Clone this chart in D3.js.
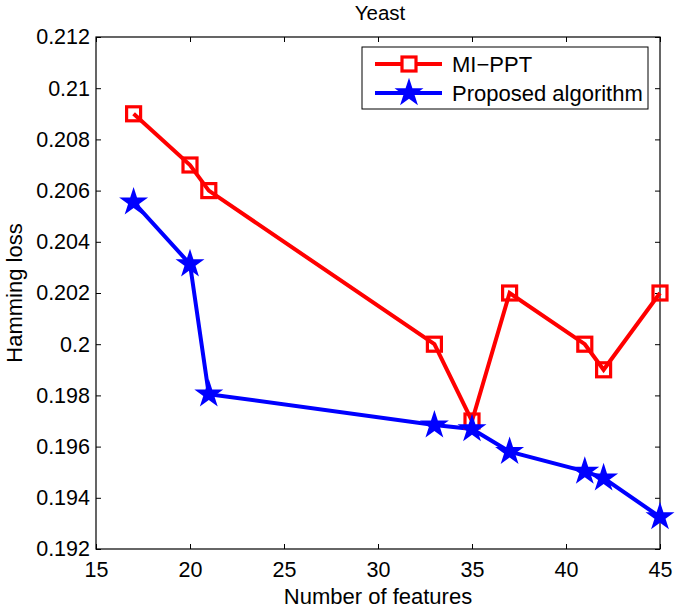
<!DOCTYPE html>
<html>
<head>
<meta charset="utf-8">
<script src="https://cdn.jsdelivr.net/npm/d3@7"></script>
<style>
  body { margin: 0; background: #fff; }
  text { font-family: "Liberation Sans", Arial, sans-serif; fill: #000; }
</style>
</head>
<body>
<div id="viz"></div>
<script>
// Values
let features = [17, 20, 21, 33, 35, 37, 41, 42, 45];
let miPpt = [0.209, 0.207, 0.206, 0.200, 0.197, 0.202, 0.200, 0.199, 0.202];
let proposed = [0.20555, 0.20313, 0.19805, 0.19684, 0.19669, 0.19580, 0.19503, 0.19477, 0.19325];
let xTicks = [15, 20, 25, 30, 35, 40, 45];
let yTicks = [0.192, 0.194, 0.196, 0.198, 0.2, 0.202, 0.204, 0.206, 0.208, 0.21, 0.212];
let seriesNames = ["MI\u2212PPT", "Proposed algorithm"];

let canvasWidth = 675;
let canvasHeight = 608;
let plotLeft = 96, plotRight = 660, plotTop = 37, plotBottom = 549;
let tickFont = 21.5, labelFont = 22;

let svg = d3.select("#viz").append("svg")
  .attr("width", canvasWidth)
  .attr("height", canvasHeight);

let x = d3.scaleLinear().domain([15, 45]).range([plotLeft, plotRight]);
let y = d3.scaleLinear().domain([0.192, 0.212]).range([plotBottom, plotTop]);

let fmt = (d) => String(+d.toFixed(3));

// axes with inward ticks, on all four sides
let tickLen = 5;
svg.append("g")
  .attr("transform", "translate(0," + plotBottom + ")")
  .call(d3.axisBottom(x).tickValues(xTicks).tickSize(-tickLen).tickPadding(13).tickFormat(d3.format("d")))
  .call(g => g.select(".domain").remove())
  .call(g => g.selectAll("text").attr("font-size", tickFont));
svg.append("g")
  .attr("transform", "translate(0," + plotTop + ")")
  .call(d3.axisTop(x).tickValues(xTicks).tickSize(-tickLen).tickFormat(""))
  .call(g => g.select(".domain").remove());
svg.append("g")
  .attr("transform", "translate(" + plotLeft + ",0)")
  .call(d3.axisLeft(y).tickValues(yTicks).tickSize(-tickLen).tickPadding(6).tickFormat(fmt))
  .call(g => g.select(".domain").remove())
  .call(g => g.selectAll("text").attr("font-size", tickFont));
svg.append("g")
  .attr("transform", "translate(" + plotRight + ",0)")
  .call(d3.axisRight(y).tickValues(yTicks).tickSize(-tickLen).tickFormat(""))
  .call(g => g.select(".domain").remove());

svg.append("rect")
  .attr("x", plotLeft).attr("y", plotTop)
  .attr("width", plotRight - plotLeft).attr("height", plotBottom - plotTop)
  .attr("fill", "none").attr("stroke", "#000").attr("stroke-width", 1.2);

// titles
svg.append("text").attr("x", 380).attr("y", 20)
  .attr("text-anchor", "middle").attr("font-size", 20.5).text("Yeast");
svg.append("text").attr("x", (plotLeft + plotRight) / 2).attr("y", 604)
  .attr("text-anchor", "middle").attr("font-size", labelFont).text("Number of features");
svg.append("text")
  .attr("transform", "translate(22," + ((plotTop + plotBottom) / 2) + ") rotate(-90)")
  .attr("text-anchor", "middle").attr("font-size", labelFont).text("Hamming loss");

let line = d3.line().x(d => x(d[0])).y(d => y(d[1]));
let redData = features.map((f, i) => [f, miPpt[i]]);
let blueData = features.map((f, i) => [f, proposed[i]]);

svg.append("path").datum(redData).attr("d", line)
  .attr("fill", "none").attr("stroke", "#ff0000").attr("stroke-width", 4);
svg.append("path").datum(blueData).attr("d", line)
  .attr("fill", "none").attr("stroke", "#0000ff").attr("stroke-width", 4);

let sq = 14;
svg.append("g").selectAll("rect").data(redData).enter().append("rect")
  .attr("x", d => x(d[0]) - sq / 2).attr("y", d => y(d[1]) - sq / 2)
  .attr("width", sq).attr("height", sq)
  .attr("fill", "none").attr("stroke", "#ff0000").attr("stroke-width", 3.2);

let star = d3.symbol().type(d3.symbolStar).size(260);
svg.append("g").selectAll("path").data(blueData).enter().append("path")
  .attr("transform", d => "translate(" + x(d[0]) + "," + y(d[1]) + ")")
  .attr("d", star).attr("fill", "#0000ff");

// legend
let lg = svg.append("g");
lg.append("rect").attr("x", 362).attr("y", 47).attr("width", 286).attr("height", 62)
  .attr("fill", "#fff").attr("stroke", "#000").attr("stroke-width", 1);
let ly = [64, 93];
lg.append("line").attr("x1", 375).attr("x2", 442).attr("y1", ly[0]).attr("y2", ly[0])
  .attr("stroke", "#ff0000").attr("stroke-width", 4);
lg.append("rect").attr("x", 409 - sq / 2).attr("y", ly[0] - sq / 2).attr("width", sq).attr("height", sq)
  .attr("fill", "#fff").attr("stroke", "#ff0000").attr("stroke-width", 3.2);
lg.append("line").attr("x1", 375).attr("x2", 442).attr("y1", ly[1]).attr("y2", ly[1])
  .attr("stroke", "#0000ff").attr("stroke-width", 4);
lg.append("path").attr("transform", "translate(409," + ly[1] + ")")
  .attr("d", star).attr("fill", "#0000ff");
seriesNames.forEach((s, i) => {
  lg.append("text").attr("x", 452).attr("y", ly[i]).attr("dy", "0.35em")
    .attr("font-size", labelFont).text(s);
});
</script>
</body>
</html>
